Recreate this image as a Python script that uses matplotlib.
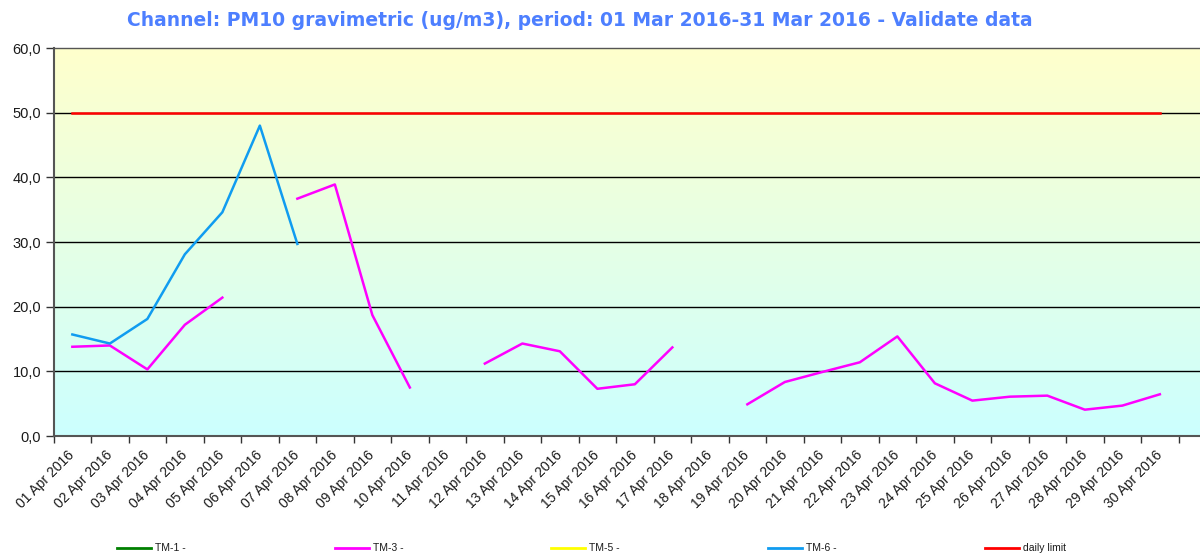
import numpy as np
import matplotlib
matplotlib.use("Agg")
import matplotlib.pyplot as plt
from matplotlib.lines import Line2D

nan = np.nan
days = [f"{d:02d} Apr 2016" for d in range(1, 31)]
tm3 = [13.8, 14.0, 10.3, 17.2, 21.4, nan, 36.7, 38.9, 18.7, 7.5,
       nan, 11.2, 14.3, 13.1, 7.3, 8.0, 13.7, nan, 4.9, 8.35,
       9.9, 11.4, 15.4, 8.15, 5.47, 6.08, 6.24, 4.07, 4.7, 6.45]
tm6 = [15.7, 14.3, 18.1, 28.1, 34.6, 48.0, 29.7] + [nan] * 23
daily_limit = [50.0] * 30
yticks = [0, 10, 20, 30, 40, 50, 60]
title = "Channel: PM10 gravimetric (ug/m3), period: 01 Mar 2016-31 Mar 2016 - Validate data"

W, H = 1200, 556
fig = plt.figure(figsize=(W / 100, H / 100), dpi=100)
ax = fig.add_axes([53.6 / W, 1 - 436 / H, 1162.5 / W, 388 / H])

ncat = 31
ax.set_xlim(-0.5, ncat - 0.5)
ax.set_ylim(0, 60)

# gradient background
grad = np.linspace(0, 1, 256).reshape(-1, 1)
top = np.array([255, 255, 204]) / 255
bot = np.array([204, 255, 255]) / 255
img = top[None, None, :] * (1 - grad[:, :, None]) + bot[None, None, :] * grad[:, :, None]
ax.imshow(img, extent=[-0.5, ncat - 0.5, 0, 60], aspect='auto', zorder=0)

for v in yticks[1:-1]:
    ax.axhline(v, color='#000000', lw=1.0, zorder=1)

x = np.arange(30)
ax.plot(x, daily_limit, color='#FF0000', lw=1.8, zorder=3)
ax.plot(x, tm3, color='#FF00FF', lw=1.8, zorder=3)
ax.plot(x, tm6, color='#109CF0', lw=1.8, zorder=3)

ax.set_yticks(yticks)
ax.set_yticklabels([f"{v:.1f}".replace('.', ',') for v in yticks],
                   fontsize=10.5, family='Liberation Sans', color='#1a1a1a')
ax.set_xticks(np.arange(ncat))
ax.set_xticklabels(days + [""], rotation=45, ha='right', va='center',
                   rotation_mode='anchor', fontsize=10, family='Liberation Sans',
                   color='#1a1a1a')
ax.set_xticks(np.arange(ncat + 1) - 0.5, minor=True)
ax.tick_params(axis='x', which='major', length=0, pad=12)
ax.tick_params(axis='x', which='minor', length=5, color='#333333', width=1)
ax.tick_params(axis='y', length=6, color='#333333', width=1, pad=3)
for s in ['left', 'bottom']:
    ax.spines[s].set_color('#555555')
    ax.spines[s].set_linewidth(1.5)
for s in ['top', 'right']:
    ax.spines[s].set_color('#555555')
    ax.spines[s].set_linewidth(1.0)

fig.text(580 / W, 1 - 21 / H, title, ha='center', va='center', fontsize=13.5,
         fontweight='bold', color='#4D7FFF', family='DejaVu Sans')

# legend
leg = [("TM-1 -", '#008000', 117), ("TM-3 -", '#FF00FF', 335), ("TM-5 -", '#FFFF00', 551),
       ("TM-6 -", '#109CF0', 768), ("daily limit", '#FF0000', 985)]
ly = 1 - 548 / H
for lab, col, x0 in leg:
    fig.add_artist(Line2D([x0 / W, (x0 + 34) / W], [ly, ly], color=col, lw=2,
                          transform=fig.transFigure))
    fig.text((x0 + 38) / W, ly, lab, ha='left', va='center', fontsize=7.5,
             family='Liberation Sans', color='#1a1a1a')

fig.savefig('out.png', dpi=100)
